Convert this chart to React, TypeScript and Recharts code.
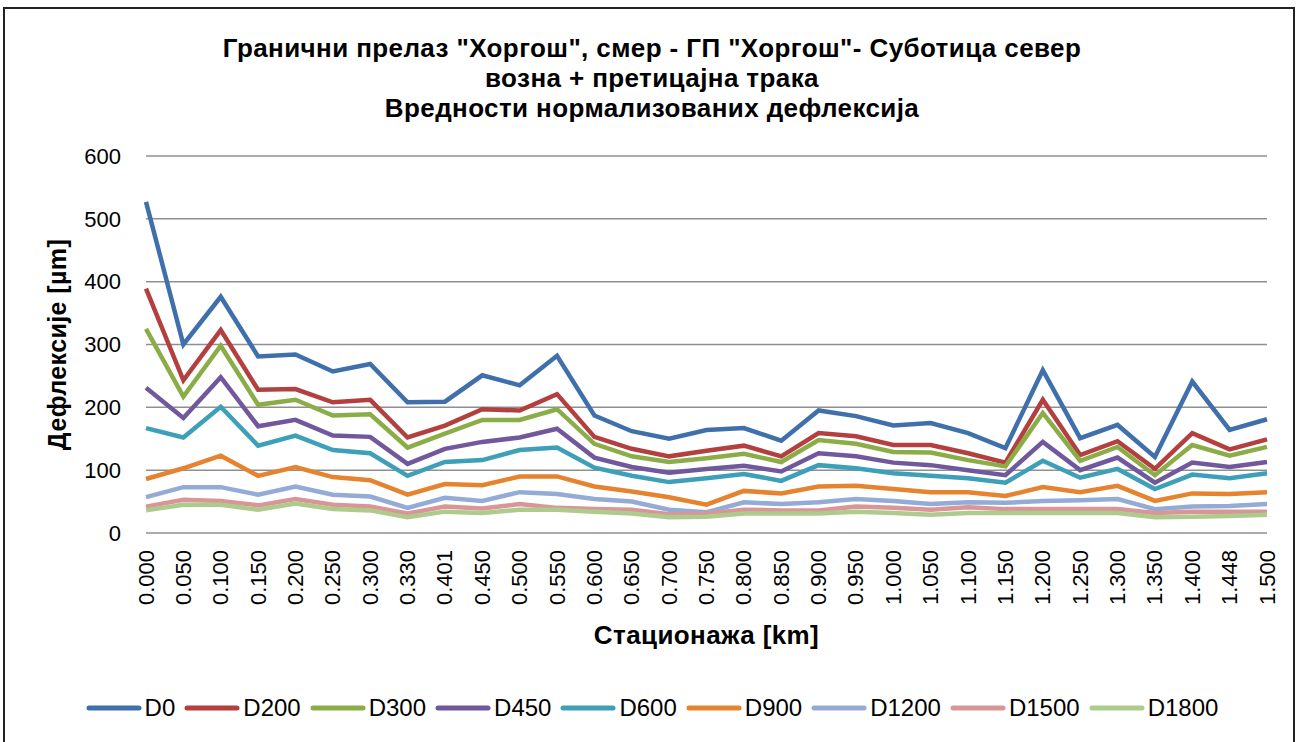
import React from "react";
import {
  LineChart,
  Line,
  XAxis,
  YAxis,
  CartesianGrid,
  Legend,
} from "recharts";

// Stationing (km) along the route
const stations = [
  "0.000", "0.050", "0.100", "0.150", "0.200", "0.250", "0.300", "0.330", "0.401", "0.450", "0.500",
  "0.550", "0.600", "0.650", "0.700", "0.750", "0.800", "0.850", "0.900", "0.950",
  "1.000", "1.050", "1.100", "1.150", "1.200", "1.250", "1.300", "1.350", "1.400", "1.448", "1.500",
];

// normalized deflections [µm] per geophone
const d0 = [527, 300, 376, 281, 284, 257, 269, 208, 209, 251, 235, 282, 187, 162, 150, 164, 167, 147, 195, 186, 171, 175, 159, 135, 259, 151, 172, 121, 241, 164, 181];
const d200 = [389, 243, 323, 228, 229, 208, 212, 152, 171, 197, 195, 221, 153, 134, 122, 131, 139, 122, 159, 154, 140, 140, 127, 112, 212, 124, 146, 102, 159, 133, 149];
const d300 = [325, 217, 298, 204, 212, 187, 189, 136, 158, 180, 180, 197, 142, 122, 113, 119, 126, 113, 148, 142, 129, 128, 116, 106, 191, 115, 137, 92, 140, 123, 137];
const d450 = [231, 183, 248, 170, 180, 155, 153, 110, 134, 145, 152, 166, 120, 105, 96, 102, 107, 98, 127, 122, 112, 108, 100, 92, 145, 100, 120, 80, 112, 105, 113];
const d600 = [167, 152, 201, 139, 155, 132, 127, 91, 113, 116, 132, 136, 104, 91, 81, 87, 94, 83, 108, 103, 95, 91, 87, 80, 115, 88, 102, 70, 93, 87, 95];
const d900 = [86, 103, 123, 91, 105, 89, 84, 61, 78, 76, 90, 90, 74, 66, 57, 45, 67, 63, 74, 75, 70, 65, 65, 59, 73, 65, 75, 51, 63, 62, 65];
const d1200 = [57, 73, 73, 61, 74, 61, 58, 40, 56, 51, 65, 62, 54, 50, 37, 33, 49, 46, 49, 54, 51, 46, 49, 48, 51, 52, 54, 38, 42, 43, 46];
const d1500 = [42, 53, 51, 44, 54, 45, 42, 31, 42, 39, 46, 40, 38, 37, 30, 31, 37, 36, 36, 42, 40, 37, 41, 38, 38, 38, 38, 32, 34, 34, 34];
const d1800 = [36, 45, 45, 37, 47, 38, 36, 25, 34, 32, 37, 37, 34, 31, 25, 26, 31, 31, 31, 34, 32, 29, 32, 32, 32, 32, 32, 25, 26, 27, 29];

const yTicks = [0, 100, 200, 300, 400, 500, 600];

const series = [
  { key: "D0", values: d0, color: "#3F70AB" },
  { key: "D200", values: d200, color: "#B3403E" },
  { key: "D300", values: d300, color: "#8BAD47" },
  { key: "D450", values: d450, color: "#71589C" },
  { key: "D600", values: d600, color: "#3E9FB8" },
  { key: "D900", values: d900, color: "#E5832F" },
  { key: "D1200", values: d1200, color: "#93ABD6" },
  { key: "D1500", values: d1500, color: "#D99696" },
  { key: "D1800", values: d1800, color: "#AECB8E" },
];

const chartData = stations.map((st, i) => {
  const row: Record<string, any> = { st };
  series.forEach((s) => {
    row[s.key] = s.values[i];
  });
  return row;
});

const FONT = '"Liberation Sans", Arial, sans-serif';

const XTick = ({ x, y, payload }: any) => (
  <text
    x={x}
    y={y}
    transform={`rotate(-90 ${x} ${y})`}
    textAnchor="end"
    dominantBaseline="central"
    fontFamily={FONT}
    fontSize={22}
    fill="#000"
  >
    {payload.value}
  </text>
);

const seriesOrder = series.map((s) => s.key);

const renderLegend = (props: any) => {
  const items = [...(props.payload || [])].sort(
    (a: any, b: any) => seriesOrder.indexOf(a.value) - seriesOrder.indexOf(b.value)
  );
  return (
    <div
      style={{
        display: "flex",
        justifyContent: "center",
        alignItems: "center",
        height: 30,
        paddingLeft: 14,
        fontFamily: FONT,
        fontSize: 24,
        color: "#000",
      }}
    >
      {items.map((entry: any) => (
        <div key={entry.value} style={{ display: "flex", alignItems: "center", marginRight: 9 }}>
          <svg width={56} height={10}>
            <line x1={3} x2={53} y1={5} y2={5} stroke={entry.color} strokeWidth={5} strokeLinecap="round" />
          </svg>
          <span style={{ marginLeft: 3 }}>{entry.value}</span>
        </div>
      ))}
    </div>
  );
};

export default function App() {
  return (
    <div
      style={{
        position: "absolute",
        left: 0,
        top: 0,
        width: 1299,
        height: 742,
        overflow: "hidden",
        background: "#fff",
      }}
    >
      <div
        style={{
          position: "absolute",
          left: 3,
          top: 7,
          width: 1288,
          height: 800,
          border: "2px solid #222",
          pointerEvents: "none",
        }}
      />
      <div
        style={{
          position: "absolute",
          top: 33,
          left: 0,
          width: 1304,
          textAlign: "center",
          fontFamily: FONT,
          fontWeight: 700,
          fontSize: 26,
          letterSpacing: 0.4,
          lineHeight: "30px",
          color: "#000",
        }}
      >
        <div>Гранични прелаз "Хоргош", смер - ГП "Хоргош"- Суботица север</div>
        <div>возна + претицајна трака</div>
        <div>Вредности нормализованих дефлексија</div>
      </div>
      <div style={{ position: "absolute", left: 0, top: 0 }}>
        <LineChart
          width={1299}
          height={742}
          data={chartData}
          margin={{ top: 156, right: 32, bottom: 19, left: 40 }}
        >
          <CartesianGrid vertical={false} stroke="#8f8f8f" strokeWidth={1.5} />
          <XAxis
            dataKey="st"
            interval={0}
            axisLine={false}
            tickLine={false}
            tickSize={0}
            tickMargin={17}
            height={160}
            tick={<XTick />}
            label={{
              value: "Стационажа [km]",
              position: "insideTop",
              offset: 93,
              style: { fontFamily: FONT, fontWeight: 700, fontSize: 26, letterSpacing: 0.4, fill: "#000" },
            }}
          />
          <YAxis
            domain={[0, 600]}
            ticks={yTicks}
            width={106}
            axisLine={false}
            tickLine={false}
            tickMargin={19}
            tick={{ fontFamily: FONT, fontSize: 22, fill: "#000" }}
            label={{
              value: "Дефлексије [µm]",
              angle: -90,
              position: "insideLeft",
              offset: 17,
              style: { textAnchor: "middle", fontFamily: FONT, fontWeight: 700, fontSize: 25, letterSpacing: 0.4, fill: "#000" },
            }}
          />
          <Legend
            verticalAlign="bottom"
            content={renderLegend}
            wrapperStyle={{ left: 0, width: 1299 }}
          />
          {series.map((s) => (
            <Line
              key={s.key}
              dataKey={s.key}
              stroke={s.color}
              strokeWidth={4.5}
              dot={false}
              isAnimationActive={false}
            />
          ))}
        </LineChart>
      </div>
    </div>
  );
}
